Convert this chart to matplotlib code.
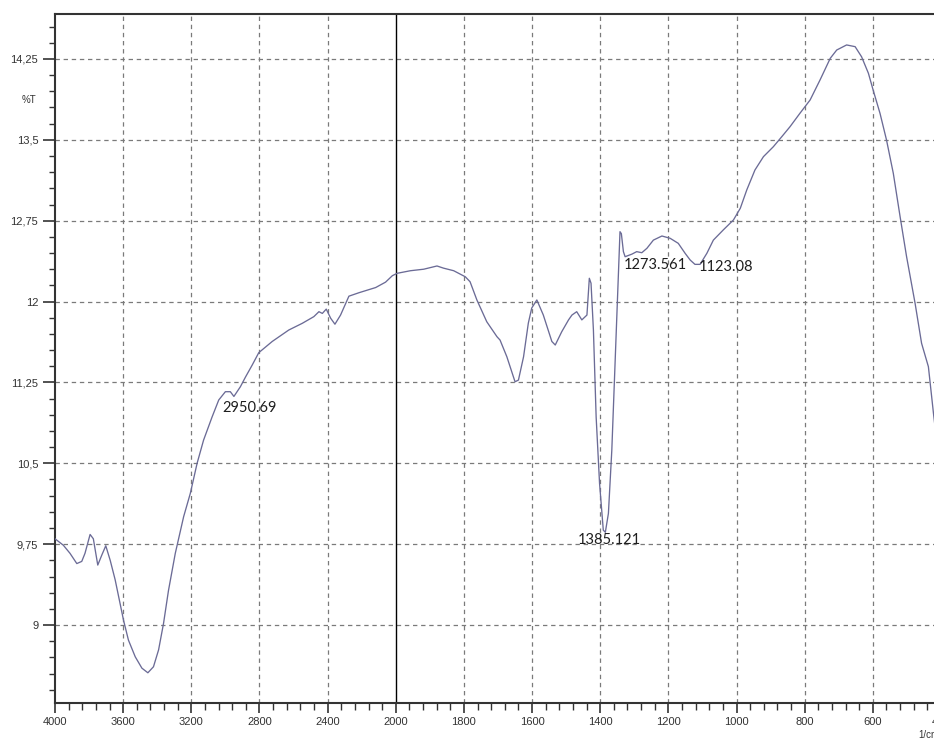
import numpy as np
import matplotlib
matplotlib.use("Agg")
import matplotlib.pyplot as plt
from matplotlib.ticker import FixedLocator, FuncFormatter

# FTIR spectrum: wavenumber (1/cm) and transmittance (%T)
wavenumber = [
    4000, 3951, 3912, 3872, 3843, 3824, 3794, 3775, 3749, 3725, 3702, 3676,
    3647, 3618, 3598, 3569, 3529, 3490, 3455, 3422, 3392, 3363, 3334, 3294,
    3245, 3206, 3166, 3128, 3078, 3039, 3000, 2971, 2950, 2912, 2882, 2843,
    2804, 2725, 2628, 2549, 2481, 2451, 2431, 2408, 2382, 2357, 2324, 2275,
    2216, 2118, 2060, 2020, 1996, 1957, 1918, 1879, 1860, 1830, 1796, 1782,
    1762, 1733, 1703, 1694, 1674, 1650, 1640, 1625, 1611, 1601, 1586, 1567,
    1542, 1532, 1513, 1493, 1483, 1469, 1454, 1439, 1432, 1427, 1420, 1412,
    1402, 1391, 1385, 1376, 1366, 1356, 1349, 1342, 1338, 1332, 1327, 1307,
    1293, 1278, 1263, 1244, 1219, 1195, 1171, 1151, 1136, 1122, 1107, 1087,
    1068, 1039, 1009, 989, 970, 946, 921, 892, 867, 843, 814, 784, 755, 725,
    706, 677, 652, 633, 613, 599, 579, 560, 540, 520, 501, 476, 457, 437,
    422, 416,
]
transmittance = [
    9.80, 9.74, 9.665, 9.57, 9.59, 9.665, 9.84, 9.80, 9.556, 9.65, 9.735, 9.60,
    9.42, 9.20, 9.046, 8.86, 8.705, 8.60, 8.557, 8.613, 8.77, 9.015, 9.32, 9.665,
    10.005, 10.22, 10.50, 10.715, 10.93, 11.087, 11.164, 11.164, 11.12, 11.21, 11.30, 11.41,
    11.526, 11.63, 11.736, 11.798, 11.86, 11.906, 11.89, 11.93, 11.845, 11.79, 11.875, 12.05,
    12.082, 12.13, 12.18, 12.24, 12.262, 12.286, 12.30, 12.33, 12.31, 12.286, 12.23, 12.184,
    12.015, 11.813, 11.674, 11.643, 11.488, 11.256, 11.272, 11.488, 11.80, 11.94, 12.015, 11.875,
    11.63, 11.597, 11.72, 11.83, 11.875, 11.906, 11.83, 11.875, 12.216, 12.17, 11.736, 10.93,
    10.314, 9.88, 9.86, 10.035, 10.623, 11.457, 12.05, 12.648, 12.63, 12.463, 12.416, 12.44,
    12.463, 12.453, 12.494, 12.57, 12.608, 12.587, 12.54, 12.448, 12.385, 12.345, 12.345, 12.448,
    12.57, 12.664, 12.757, 12.865, 13.035, 13.22, 13.344, 13.436, 13.53, 13.622, 13.746, 13.87, 14.055, 14.256,
    14.333, 14.38, 14.364, 14.27, 14.117, 13.96, 13.746, 13.5, 13.19, 12.787, 12.416, 11.983, 11.613, 11.396,
    10.96, 10.80,
]

# Peak labels: text, anchor wavenumber, anchor %T
peak_labels = ["2950.69", "1385.121", "1273.561", "1123.08"]
peak_label_x = [3018, 1465, 1330, 1110]
peak_label_y = [11.01, 9.79, 12.34, 12.32]

x_major = [4000, 3600, 3200, 2800, 2400, 2000, 1800, 1600, 1400, 1200, 1000, 800, 600, 400]
y_major = [9, 9.75, 10.5, 11.25, 12, 12.75, 13.5, 14.25]

BREAK = 2000.0


def fwd(w):
    w = np.asarray(w, dtype=float)
    return np.where(w > BREAK, BREAK + (w - BREAK) / 2.0, w)


def inv(t):
    t = np.asarray(t, dtype=float)
    return np.where(t > BREAK, BREAK + (t - BREAK) * 2.0, t)


W, H = 934, 738
fig = plt.figure(figsize=(W / 100, H / 100), dpi=100)
fig.patch.set_facecolor("white")

left_px, right_px, top_px, bottom_px = 55, 941, 14, 703.3
ax = fig.add_axes([left_px / W, 1 - bottom_px / H,
                   (right_px - left_px) / W, (bottom_px - top_px) / H])

ax.set_xscale("function", functions=(fwd, inv))
ax.set_xlim(4000, 400)
ax.set_ylim(8.274, 14.667)

ax.plot(wavenumber, transmittance, color="#6b6b96", lw=0.95, zorder=3)

# break line at 2000
ax.axvline(2000, color="black", lw=1.0, zorder=2)

# ticks
ax.xaxis.set_major_locator(FixedLocator(x_major))
x_minor = []
for a, b in zip(x_major[:-1], x_major[1:]):
    step = (a - b) / 5.0
    x_minor += [a - step * k for k in range(1, 5)]
ax.xaxis.set_minor_locator(FixedLocator(x_minor))
ax.xaxis.set_major_formatter(FuncFormatter(lambda v, p: f"{v:.0f}"))

ax.yaxis.set_major_locator(FixedLocator(y_major))
ax.yaxis.set_minor_locator(FixedLocator(np.arange(8.25, 14.7, 0.15)))


def yfmt(v, p):
    s = f"{v:.2f}".rstrip("0").rstrip(".")
    return s.replace(".", ",")


ax.yaxis.set_major_formatter(FuncFormatter(yfmt))

ax.tick_params(axis="both", which="both", direction="out", colors="#333333",
               labelsize=8, labelcolor="#333333")
ax.tick_params(axis="y", which="major", length=9, width=1.2, pad=3)
ax.tick_params(axis="y", which="minor", length=4.5, width=1.0)
ax.tick_params(axis="x", which="major", length=7, width=1.2, pad=3)
ax.tick_params(axis="x", which="minor", length=5, width=1.0)
for lab in ax.get_xticklabels() + ax.get_yticklabels():
    lab.set_family("Liberation Sans")

# dashed grid (skip the 2000 break line and the axes edges)
for xv in x_major:
    if xv in (4000, 2000, 400):
        continue
    ax.axvline(xv, color="#7a7a7a", lw=0.9, ls=(0, (3.5, 3)), zorder=1)
for yv in y_major:
    ax.axhline(yv, color="#7a7a7a", lw=0.9, ls=(0, (3.5, 3)), zorder=1)

for side in ("left", "bottom", "top", "right"):
    ax.spines[side].set_color("#333333")
    ax.spines[side].set_linewidth(1.5)

# peak labels
for txt, px, py in zip(peak_labels, peak_label_x, peak_label_y):
    ax.text(px, py, txt, ha="left", va="center", fontsize=10.5,
            family="Lato", color="#1e1e1e", zorder=4)

# axis titles in the instrument style
fig.text(29 / W, 1 - 100 / H, "%T", ha="center", va="center",
         fontsize=7, color="#333333", family="Liberation Sans")
fig.text(918 / W, 1 - 735 / H, "1/cm", ha="left", va="center",
         fontsize=7, color="#333333", family="Liberation Sans")

fig.savefig("out.png", dpi=100, facecolor="white")
